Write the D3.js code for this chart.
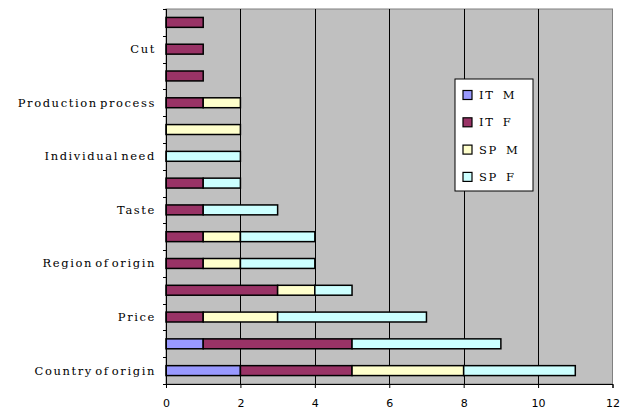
<!DOCTYPE html>
<html>
<head>
<meta charset="utf-8">
<script src="https://cdn.jsdelivr.net/npm/d3@7"></script>
<style>
  body { margin: 0; background: #fff; }
  .cat { font-family: "DejaVu Serif", serif; font-size: 11.5px; letter-spacing: 1.6px; word-spacing: -3px; }
  .num { font-family: "DejaVu Sans", sans-serif; font-size: 11px; }
</style>
</head>
<body>
<div id="chart"></div>
<script>
// categories top to bottom; Excel only labels every other row
const categories = ["", "Cut", "", "Production process", "", "Individual need", "", "Taste", "", "Region of origin", "", "Price", "", "Country of origin"];
const seriesNames = ["IT M", "IT F", "SP M", "SP F"];
const itM = [0, 0, 0, 0, 0, 0, 0, 0, 0, 0, 0, 0, 1, 2];
const itF = [1, 1, 1, 1, 0, 0, 1, 1, 1, 1, 3, 1, 4, 3];
const spM = [0, 0, 0, 1, 2, 0, 0, 0, 1, 1, 1, 2, 0, 3];
const spF = [0, 0, 0, 0, 0, 2, 1, 2, 2, 2, 1, 4, 4, 3];
const xTicks = [0, 2, 4, 6, 8, 10, 12];
const colors = ["#9999FF", "#993366", "#FFFFCC", "#CCFFFF"];

const width = 620, height = 414;
const margin = {top: 9, right: 8, bottom: 30, left: 166};
const plotW = 612.5 - margin.left;
const plotH = 384 - margin.top;

const svg = d3.select("#chart").append("svg")
    .attr("width", width)
    .attr("height", height);

const g = svg.append("g")
    .attr("transform", `translate(${margin.left},${margin.top})`);

const x = d3.scaleLinear().domain([0, 12]).range([0, plotW]);
const y = d3.scaleBand()
    .domain(d3.range(categories.length))
    .range([0, plotH])
    .paddingInner(0.63)
    .paddingOuter(0.315);

// table for the stack
const rows = categories.map((c, i) => ({
    idx: i, "IT M": itM[i], "IT F": itF[i], "SP M": spM[i], "SP F": spF[i]
}));
const stacked = d3.stack().keys(seriesNames)(rows);

// plot background
g.append("rect")
    .attr("width", plotW)
    .attr("height", plotH)
    .attr("fill", "#C0C0C0")
    .attr("stroke", "#808080")
    .attr("stroke-width", 1);

// vertical gridlines
g.selectAll(".grid")
    .data(xTicks.slice(1, -1))
    .enter().append("line")
    .attr("x1", d => Math.round(x(d)) + 0.5)
    .attr("x2", d => Math.round(x(d)) + 0.5)
    .attr("y1", 0)
    .attr("y2", plotH)
    .attr("stroke", "#000")
    .attr("stroke-width", 1);

// bars
stacked.forEach((layer, k) => {
    g.selectAll(".bar" + k)
        .data(layer.filter(d => d[1] > d[0]))
        .enter().append("rect")
        .attr("x", d => x(d[0]))
        .attr("y", d => y(d.data.idx))
        .attr("width", d => x(d[1]) - x(d[0]))
        .attr("height", y.bandwidth())
        .attr("fill", colors[k])
        .attr("stroke", "#000")
        .attr("stroke-width", 1.5);
});

// left (category) axis
g.append("line")
    .attr("x1", 0.5).attr("x2", 0.5)
    .attr("y1", 0).attr("y2", plotH)
    .attr("stroke", "#000");
const bounds = d3.range(categories.length + 1).map(i => i * y.step());
g.selectAll(".ytick")
    .data(bounds)
    .enter().append("line")
    .attr("x1", -3).attr("x2", 0.5)
    .attr("y1", d => Math.round(d) + 0.5)
    .attr("y2", d => Math.round(d) + 0.5)
    .attr("stroke", "#000");
g.selectAll(".ylab")
    .data(categories.map((c, i) => ({c, i})).filter(d => d.c !== ""))
    .enter().append("text")
    .attr("class", "cat")
    .attr("x", -10)
    .attr("y", d => y(d.i) + y.bandwidth() / 2)
    .attr("dy", "0.35em")
    .attr("text-anchor", "end")
    .text(d => d.c);

// bottom axis
const xAxis = g.append("g")
    .attr("transform", `translate(0,${plotH})`)
    .call(d3.axisBottom(x).tickValues(xTicks).tickSize(4).tickPadding(11));
xAxis.select(".domain").attr("stroke", "#000");
xAxis.selectAll(".tick line").attr("stroke", "#000");
xAxis.selectAll("text").attr("class", "num").attr("fill", "#000")
    .style("font-family", "'DejaVu Sans', sans-serif").style("font-size", "11px");

// legend
const leg = svg.append("g").attr("transform", "translate(455,79)");
leg.append("rect")
    .attr("width", 78)
    .attr("height", 112)
    .attr("fill", "#fff")
    .attr("stroke", "#000");
seriesNames.forEach((s, k) => {
    const cy = 16 + k * 27.3;
    leg.append("rect")
        .attr("x", 8)
        .attr("y", cy - 4.5)
        .attr("width", 9)
        .attr("height", 9)
        .attr("fill", colors[k])
        .attr("stroke", "#000")
        .attr("stroke-width", 1.2);
    leg.append("text")
        .attr("class", "cat")
        .attr("x", 24)
        .attr("y", cy)
        .attr("dy", "0.35em")
        .style("word-spacing", "3px")
        .text(s);
});
</script>
</body>
</html>
